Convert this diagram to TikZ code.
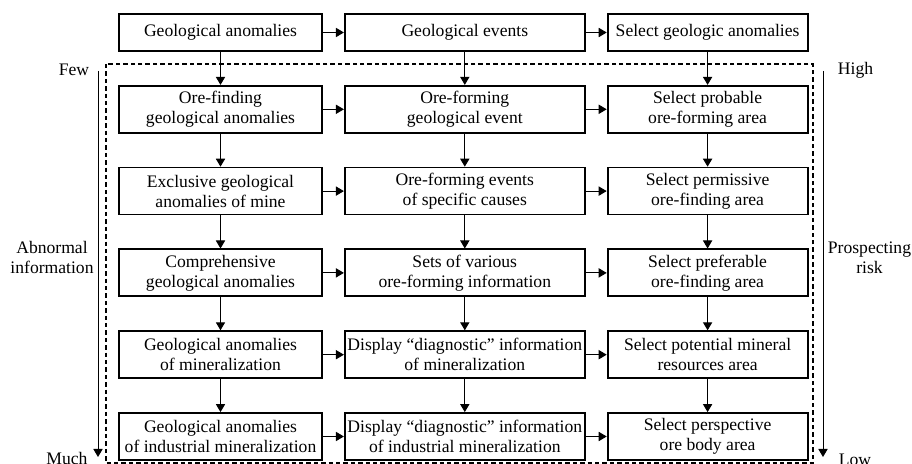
\documentclass[tikz,border=0pt]{standalone}
\usepackage{fontspec}
\setmainfont{Liberation Serif}
\usetikzlibrary{positioning, arrows.meta}
\newcommand{\boxfont}{\fontsize{8.8}{10}\selectfont}
\tikzset{
  box/.style={
    draw, line width=0.9pt, minimum height=23.5pt,
    inner sep=1pt, align=center, font=\boxfont
  },
  anom/.style={box, minimum width=101.5pt},
  evnt/.style={box, minimum width=120pt},
  area/.style={box, minimum width=100pt},
  toprow/.style={minimum height=18.5pt},
  every edge/.style={draw, -{Triangle[length=4pt, width=4.6pt]}, line width=0.5pt},
  side/.style={font=\boxfont, align=center, inner sep=0pt},
  frame/.style={dash pattern=on 2.2pt off 1.5pt, line width=0.7pt},
}

\begin{document}
\begin{tikzpicture}[x=0.5pt, y=-0.5pt, node distance=16.5pt and 10.5pt]
  \useasboundingbox (0,0) rectangle (912,464);

  % boxes, row by row
  \node[anom, toprow] (ANOM1) at (220.5,32.5) {Geological anomalies};
  \node[evnt, toprow, right=of ANOM1] (EVNT1) {Geological events};
  \node[area, toprow, right=of EVNT1] (AREA1) {Select geologic anomalies};

  \node[anom, below=of ANOM1] (ANOM2) {Ore-finding\\geological anomalies};
  \node[evnt, right=of ANOM2] (EVNT2) {Ore-forming\\geological event};
  \node[area, right=of EVNT2] (AREA2) {Select probable\\ore-forming area};

  \node[anom, below=of ANOM2] (ANOM3) {Exclusive geological\\anomalies of mine};
  \node[evnt, right=of ANOM3] (EVNT3) {Ore-forming events\\of specific causes};
  \node[area, right=of EVNT3] (AREA3) {Select permissive\\ore-finding area};

  \node[anom, below=of ANOM3] (ANOM4) {Comprehensive\\geological anomalies};
  \node[evnt, right=of ANOM4] (EVNT4) {Sets of various\\ore-forming information};
  \node[area, right=of EVNT4] (AREA4) {Select preferable\\ore-finding area};

  \node[anom, below=of ANOM4] (ANOM5) {Geological anomalies\\of mineralization};
  \node[evnt, right=of ANOM5] (EVNT5) {Display “diagnostic” information\\of mineralization};
  \node[area, right=of EVNT5] (AREA5) {Select potential mineral\\resources area};

  \node[anom, below=of ANOM5] (ANOM6) {Geological anomalies\\of industrial mineralization};
  \node[evnt, right=of ANOM6] (EVNT6) {Display “diagnostic” information\\of industrial mineralization};
  \node[area, right=of EVNT6] (AREA6) {Select perspective\\ore body area};

  % dashed frame
  \draw[frame] (106,64) rectangle (813,463);

  % side scales
  \node[side] (FEW) at (74,70) {Few};
  \node[side, anchor=north] (MUCH) at (67,452) {Much};
  \node[side] (ABNORMAL) at (52,257.5) {Abnormal\\information};
  \node[side] (HIGH) at (855.5,70) {High};
  \node[side, anchor=north] (LOW) at (855,454) {Low};
  \node[side] (RISK) at (869.5,257.5) {Prospecting\\risk};
  \coordinate (LTOP) at (98,71);
  \coordinate (LBOT) at (98,457);
  \coordinate (RTOP) at (823,71);
  \coordinate (RBOT) at (823,457);

  \path (LTOP) edge (LBOT)
        (RTOP) edge (RBOT);

  \path (ANOM1) edge (EVNT1)
        (EVNT1) edge (AREA1)
        (ANOM2) edge (EVNT2)
        (EVNT2) edge (AREA2)
        (ANOM3) edge (EVNT3)
        (EVNT3) edge (AREA3)
        (ANOM4) edge (EVNT4)
        (EVNT4) edge (AREA4)
        (ANOM5) edge (EVNT5)
        (EVNT5) edge (AREA5)
        (ANOM6) edge (EVNT6)
        (EVNT6) edge (AREA6);

  \path (ANOM1) edge (ANOM2)
        (ANOM2) edge (ANOM3)
        (ANOM3) edge (ANOM4)
        (ANOM4) edge (ANOM5)
        (ANOM5) edge (ANOM6)
        (EVNT1) edge (EVNT2)
        (EVNT2) edge (EVNT3)
        (EVNT3) edge (EVNT4)
        (EVNT4) edge (EVNT5)
        (EVNT5) edge (EVNT6)
        (AREA1) edge (AREA2)
        (AREA2) edge (AREA3)
        (AREA3) edge (AREA4)
        (AREA4) edge (AREA5)
        (AREA5) edge (AREA6);
\end{tikzpicture}
\end{document}
